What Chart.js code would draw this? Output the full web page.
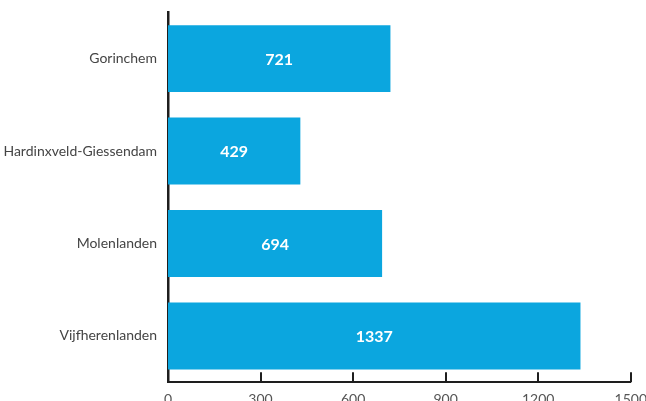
<!DOCTYPE html>
<html>
<head>
<meta charset="utf-8">
<script src="https://cdn.jsdelivr.net/npm/chart.js@4"></script>
<style>
  html, body { margin: 0; padding: 0; background: #fff; overflow: hidden; }
  #wrap { position: relative; width: 646px; height: 401px; overflow: hidden; }
  #chart { position: absolute; left: 0; top: -7px; }
</style>
</head>
<body>
<div id="wrap"><canvas id="chart" width="656" height="424"></canvas></div>
<script>
// data
const categories = ['Gorinchem', 'Hardinxveld-Giessendam', 'Molenlanden', 'Vijfherenlanden']
const values     = [721, 429, 694, 1337]
const xTicks     = [0, 300, 600, 900, 1200, 1500]

const BAR_COLOR  = '#0ba6df'
const AXIS_COLOR = '#1e1e1e'
const FONT       = "Lato, 'Open Sans', sans-serif"

// value labels in the middle of each bar
const barLabels = {
  id: 'barLabels',
  afterDatasetsDraw(chart) {
    const { ctx } = chart
    const meta = chart.getDatasetMeta(0)
    ctx.save()
    ctx.fillStyle = '#fff'
    ctx.font = `bold 16px ${FONT}`
    ctx.textAlign = 'center'
    ctx.textBaseline = 'middle'
    meta.data.forEach((bar, i) => {
      const { x, y, base } = bar.getProps(['x', 'y', 'base'], true)
      ctx.fillText(String(values[i]), (x + base) / 2, y + 1)
    })
    ctx.restore()
  }
}

// tick marks pointing upward from the x axis
const innerTicks = {
  id: 'innerTicks',
  afterDraw(chart) {
    const { ctx, scales: { x }, chartArea } = chart
    ctx.save()
    ctx.strokeStyle = AXIS_COLOR
    ctx.lineWidth = 2
    xTicks.forEach(v => {
      if (v === 0) return
      const px = Math.round(x.getPixelForValue(v))
      ctx.beginPath()
      ctx.moveTo(px, chartArea.bottom)
      ctx.lineTo(px, chartArea.bottom - 10)
      ctx.stroke()
    })
    ctx.restore()
  }
}

new Chart(document.getElementById('chart'), {
  type: 'bar',
  data: {
    labels: categories,
    datasets: [{
      data: values,
      backgroundColor: BAR_COLOR,
      borderWidth: 0,
      barPercentage: 0.8,
      categoryPercentage: 0.905
    }]
  },
  options: {
    indexAxis: 'y',
    responsive: false,
    animation: false,
    layout: { padding: { top: 2, right: 0, left: 0, bottom: 0 } },
    plugins: { legend: { display: false }, tooltip: { enabled: false } },
    scales: {
      x: {
        min: 0, max: 1500,
        afterBuildTicks: scale => { scale.ticks = xTicks.map(v => ({ value: v })) },
        ticks: { color: '#555', font: { family: FONT, size: 14 }, padding: 9, maxRotation: 0,
                 callback: v => String(v) },
        grid: { display: false, drawTicks: false },
        border: { color: AXIS_COLOR, width: 2 }
      },
      y: {
        afterFit: scale => { scale.width = 168 },
        ticks: { color: '#444', font: { family: FONT, size: 14 }, padding: 11 },
        grid: { display: false, drawTicks: false },
        border: { color: AXIS_COLOR, width: 2.5 }
      }
    }
  },
  plugins: [barLabels, innerTicks]
})
</script>
</body>
</html>
